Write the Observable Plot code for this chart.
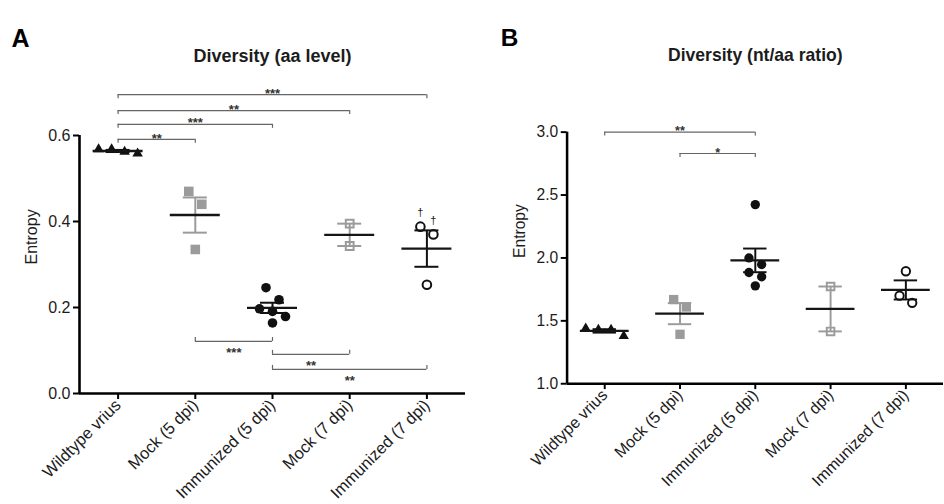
<!DOCTYPE html>
<html><head><meta charset="utf-8">
<script src="https://cdn.jsdelivr.net/npm/d3@7"></script>
<script src="https://cdn.jsdelivr.net/npm/@observablehq/plot@0.6"></script>
<style>
html,body{margin:0;padding:0;background:#fff;overflow:hidden;width:944px;height:504px}
#wrap{position:relative;width:944px;height:504px;overflow:hidden;background:#fff}
#a{position:absolute;left:0;top:0}
#b{position:absolute;left:472px;top:0}
</style></head><body><div id="wrap"><div id="a"></div><div id="b"></div></div>
<script>
// ---------- data ----------
const groups = ["Wildtype vrius", "Mock (5 dpi)", "Immunized (5 dpi)", "Mock (7 dpi)", "Immunized (7 dpi)"];

const aaWildtype = [0.568, 0.558, 0.562, 0.568];
const aaMock5 = [0.470, 0.440, 0.335];
const aaImm5 = [0.246, 0.218, 0.191, 0.197, 0.179, 0.164];
const aaMock7 = [0.395, 0.343];
const aaImm7 = [0.388, 0.370, 0.253];
const aaImm7Dagger = [true, true, false];

const ntWildtype = [1.43, 1.38, 1.43, 1.44];
const ntMock5 = [1.669, 1.610, 1.393];
const ntImm5 = [2.424, 2.000, 1.948, 1.884, 1.850, 1.778];
const ntMock7 = [1.773, 1.416];
const ntImm7 = [1.894, 1.643, 1.700];

const aaTicks = [0, 0.2, 0.4, 0.6];
const ntTicks = [1.0, 1.5, 2.0, 2.5, 3.0];

// significance brackets: [from group, to group, label, level (data units), side]
const sigA = [
  [0, 4, "***", 0.695, "top"],
  [0, 3, "**", 0.658, "top"],
  [0, 2, "***", 0.626, "top"],
  [0, 1, "**", 0.591, "top"],
  [1, 2, "***", 0.121, "bottom"],
  [2, 3, "**", 0.091, "bottom"],
  [2, 4, "**", 0.056, "bottom"]
];
const sigB = [
  [0, 2, "**", 3.0, "top"],
  [1, 2, "*", 2.83, "top"]
];

// ---------- styles ----------
const GREY = "#9b9b9b";
const groupStyle = [
  {symbol: "triangle", fill: "#111", stroke: "none", r: 3.9, bar: "#111"},
  {symbol: "square", fill: GREY, stroke: "none", r: 5.4, bar: GREY},
  {symbol: "circle", fill: "#111", stroke: "none", r: 4.8, bar: "#111"},
  {symbol: "square", fill: "white", stroke: GREY, r: 4.4, bar: GREY},
  {symbol: "circle", fill: "white", stroke: "#111", r: 4.3, bar: "#111"}
];
const FONT = "Liberation Sans, Arial, Helvetica, sans-serif";
const TEXT = "#1c1c1c";

function buildPanel(el, cfg) {
  const {series, yDomain, yTicks, sig, title, letter, width, marginLeft, marginRight, dagger} = cfg;
  const height = 504, marginTop = 135, marginBottom = 111;
  const xDomain = [-0.5, 4.5];
  const xRange = [marginLeft, width - marginRight];
  const step = (xRange[1] - xRange[0]) / (xDomain[1] - xDomain[0]);
  const ys = d3.scaleLinear().domain(yDomain).range([height - marginBottom, marginTop]);
  const unitPerPx = (yDomain[1] - yDomain[0]) / (height - marginBottom - marginTop);

  // Prism-like scatter offsets (pixels), computed from the values
  const spacing = 13, windowPx = 13.5, collide = 11;
  function scatter(vals) {
    const order = d3.range(vals.length).sort((a, b) => vals[b] - vals[a]);
    const clusters = [];
    for (const i of order) {
      const py = ys(vals[i]);
      const last = clusters[clusters.length - 1];
      if (last && py - last.start < windowPx) last.items.push(i);
      else clusters.push({start: py, items: [i]});
    }
    const off = new Array(vals.length).fill(0);
    const placed = [];
    for (const c of clusters) {
      const n = c.items.length;
      let f = 1, pos;
      for (; f < 5; f += 0.05) {
        pos = c.items.map((i, k) => ({i, x: (k - (n - 1) / 2) * spacing * f, y: ys(vals[i])}));
        if (n === 1) pos[0].x = 0;
        const ok = pos.every(p => placed.every(q => Math.hypot(p.x - q.x, p.y - q.y) >= collide));
        if (ok || n === 1) break;
      }
      for (const p of pos) { off[p.i] = p.x; placed.push(p); }
    }
    return off;
  }

  const points = [];
  const stats = [];
  series.forEach((vals, g) => {
    const off = scatter(vals);
    vals.forEach((v, k) => points.push({g, v, x: g + off[k] / step, dag: g === 4 && dagger ? dagger[k] : false}));
    const mean = d3.mean(vals);
    const sem = d3.deviation(vals) / Math.sqrt(vals.length);
    stats.push({g, mean, lo: mean - sem, hi: mean + sem, color: groupStyle[g].bar});
  });

  const meanHalf = 25 / step, capHalf = 12 / step;
  const sigRows = sig.map(([from, to, label, level, side]) => ({from, to, label, level, side}));
  const endLen = 4 * unitPerPx;
  const sigEnds = sigRows.flatMap(s => [s.from, s.to].map(x => ({x, y1: s.level, y2: s.side === "top" ? s.level - endLen : s.level + endLen})));
  const sigFont = {fontSize: 13, fontWeight: "bold", fill: "#333"};

  const marks = [
    // axis lines
    Plot.ruleX([xDomain[0]], {y1: yDomain[0], y2: yDomain[1], stroke: "#000", strokeWidth: 2.6}),
    Plot.ruleY([yDomain[0]], {x1: xDomain[0], x2: xDomain[1], stroke: "#000", strokeWidth: 2.6}),
    Plot.axisY(yTicks, {tickFormat: d3.format(".1f"), tickSize: 6, tickPadding: 3, fontSize: 16, strokeWidth: 2, stroke: "#000", fill: TEXT, label: null}),
    Plot.axisX(d3.range(groups.length), {tickFormat: i => groups[i], tickRotate: -45, tickSize: 6, tickPadding: 3, fontSize: 16.5, strokeWidth: 2, stroke: "#000", fill: TEXT, label: null}),
    // points
    ...groupStyle.map((st, g) => Plot.dot(points.filter(p => p.g === g), {x: "x", y: "v", symbol: st.symbol, fill: st.fill, stroke: st.stroke, strokeWidth: 2, r: st.r})),
    // SEM bars (group colour) and mean line (black)
    Plot.ruleX(stats, {x: "g", y1: "lo", y2: "hi", stroke: "color", strokeWidth: 2}),
    Plot.ruleY(stats, {y: "lo", x1: d => d.g - capHalf, x2: d => d.g + capHalf, stroke: "color", strokeWidth: 2}),
    Plot.ruleY(stats, {y: "hi", x1: d => d.g - capHalf, x2: d => d.g + capHalf, stroke: "color", strokeWidth: 2}),
    Plot.ruleY(stats, {y: "mean", x1: d => d.g - meanHalf, x2: d => d.g + meanHalf, stroke: "#151515", strokeWidth: 2.4}),
    // daggers
    Plot.text(points.filter(p => p.dag), {x: "x", y: "v", text: () => "†", dy: -14, fontSize: 11, fill: TEXT}),
    // significance brackets
    Plot.ruleY(sigRows, {y: "level", x1: "from", x2: "to", stroke: "#666", strokeWidth: 1.2}),
    Plot.ruleX(sigEnds, {x: "x", y1: "y1", y2: "y2", stroke: "#666", strokeWidth: 1.2}),
    Plot.text(sigRows.filter(d => d.side === "top"), {x: d => (d.from + d.to) / 2, y: "level", text: "label", dy: -1, ...sigFont}),
    Plot.text(sigRows.filter(d => d.side === "bottom"), {x: d => (d.from + d.to) / 2, y: "level", text: "label", dy: 11, ...sigFont}),
    // labels
    Plot.text(["Entropy"], {frameAnchor: "left", dx: -48, rotate: -90, fontSize: 16, fill: TEXT}),
    Plot.text([title], {frameAnchor: "top", dy: -86, fontSize: 18, fontWeight: "bold", fill: TEXT}),
    Plot.text([letter], {frameAnchor: "top-left", textAnchor: "start", dx: -68, dy: -106, fontSize: 25, fontWeight: "bold", fill: "#000"})
  ];

  const plot = Plot.plot({
    width, height, marginTop, marginBottom, marginLeft, marginRight,
    x: {type: "linear", domain: xDomain, range: xRange},
    y: {type: "linear", domain: yDomain},
    style: {fontFamily: FONT, background: "white", overflow: "visible"},
    marks
  });
  el.appendChild(plot);
}

buildPanel(document.getElementById("a"), {
  series: [aaWildtype, aaMock5, aaImm5, aaMock7, aaImm7],
  yDomain: [0, 0.6], yTicks: aaTicks, sig: sigA, dagger: aaImm7Dagger,
  title: "Diversity (aa level)", letter: "A", width: 472, marginLeft: 79, marginRight: 7
});
buildPanel(document.getElementById("b"), {
  series: [ntWildtype, ntMock5, ntImm5, ntMock7, ntImm7],
  yDomain: [1, 3], yTicks: ntTicks, sig: sigB, dagger: null,
  title: "Diversity (nt/aa ratio)", letter: "B", width: 484, marginLeft: 97, marginRight: 1
});
</script></body></html>
